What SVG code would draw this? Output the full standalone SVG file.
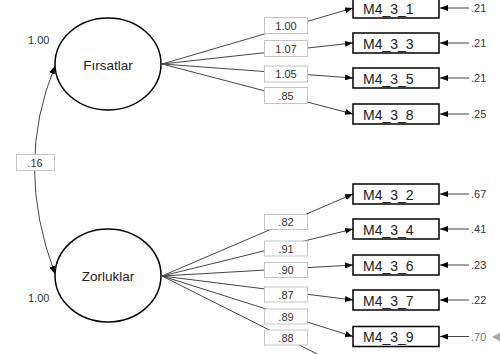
<svg xmlns="http://www.w3.org/2000/svg" width="500" height="354" viewBox="0 0 500 354">
<defs>
<style>
text{font-family:"Liberation Sans",Arial,sans-serif;fill:#222}
.lat{fill:#fff;stroke:#000;stroke-width:1.5}
.ind{fill:#fff;stroke:#000;stroke-width:1.5}
.it{font-size:14px}
.lt{font-size:13.5px;text-anchor:middle}
.ln{fill:none;stroke:#444;stroke-width:1}
.lb{fill:#fff;stroke:#c4c4c4;stroke-width:1}
.lbt{font-size:11px;text-anchor:middle;fill:#333}
.et{font-size:11px;fill:#333}
</style>
<marker id="ah" viewBox="0 0 8 6" refX="8" refY="3" markerWidth="8" markerHeight="6" markerUnits="userSpaceOnUse" orient="auto-start-reverse">
<path d="M0,0L8,3L0,6z" fill="#000"/>
</marker>
</defs>
<rect width="500" height="354" fill="#fff"/>
<g id="connectors">
<path class="ln" d="M55,66 Q14,165 55,274" marker-start="url(#ah)" marker-end="url(#ah)"/>
<line class="ln" x1="162" y1="64" x2="353" y2="8" marker-end="url(#ah)"/>
<line class="ln" x1="162" y1="64" x2="353" y2="43" marker-end="url(#ah)"/>
<line class="ln" x1="162" y1="64" x2="353" y2="78" marker-end="url(#ah)"/>
<line class="ln" x1="162" y1="64" x2="353" y2="114" marker-end="url(#ah)"/>
<line class="ln" x1="162" y1="276" x2="353" y2="194" marker-end="url(#ah)"/>
<line class="ln" x1="162" y1="276" x2="353" y2="229" marker-end="url(#ah)"/>
<line class="ln" x1="162" y1="276" x2="353" y2="265" marker-end="url(#ah)"/>
<line class="ln" x1="162" y1="276" x2="353" y2="300" marker-end="url(#ah)"/>
<line class="ln" x1="162" y1="276" x2="353" y2="336.5" marker-end="url(#ah)"/>
<line class="ln" x1="162" y1="276" x2="353" y2="372"/>
<line class="ln" x1="469" y1="8" x2="440" y2="8" marker-end="url(#ah)"/>
<line class="ln" x1="469" y1="43" x2="440" y2="43" marker-end="url(#ah)"/>
<line class="ln" x1="469" y1="78" x2="440" y2="78" marker-end="url(#ah)"/>
<line class="ln" x1="469" y1="114" x2="440" y2="114" marker-end="url(#ah)"/>
<line class="ln" x1="469" y1="194" x2="440" y2="194" marker-end="url(#ah)"/>
<line class="ln" x1="469" y1="229" x2="440" y2="229" marker-end="url(#ah)"/>
<line class="ln" x1="469" y1="265" x2="440" y2="265" marker-end="url(#ah)"/>
<line class="ln" x1="469" y1="300" x2="440" y2="300" marker-end="url(#ah)"/>
<line class="ln" x1="469" y1="336.5" x2="440" y2="336.5" marker-end="url(#ah)"/>
<rect class="lb" x="16.5" y="154.5" width="38" height="16"/><text class="lbt" x="35" y="166.5">.16</text>
<rect class="lb" x="264.5" y="17.5" width="43" height="16"/><text class="lbt" x="286" y="29.5">1.00</text>
<rect class="lb" x="264.5" y="40.5" width="43" height="16"/><text class="lbt" x="286" y="52.5">1.07</text>
<rect class="lb" x="264.5" y="66" width="43" height="16"/><text class="lbt" x="286" y="78">1.05</text>
<rect class="lb" x="264.5" y="87.5" width="43" height="16"/><text class="lbt" x="286" y="99.5">.85</text>
<rect class="lb" x="264.5" y="214.5" width="43" height="15"/><text class="lbt" x="286" y="226">.82</text>
<rect class="lb" x="264.5" y="241" width="43" height="15"/><text class="lbt" x="286" y="252.5">.91</text>
<rect class="lb" x="264.5" y="262.5" width="43" height="15"/><text class="lbt" x="286" y="274">.90</text>
<rect class="lb" x="264.5" y="287" width="43" height="15"/><text class="lbt" x="286" y="298.5">.87</text>
<rect class="lb" x="264.5" y="309" width="43" height="15"/><text class="lbt" x="286" y="320.5">.89</text>
<rect class="lb" x="264.5" y="330" width="43" height="15"/><text class="lbt" x="286" y="341.5">.88</text>
<text class="et" x="471" y="12">.21</text>
<text class="et" x="471" y="47">.21</text>
<text class="et" x="471" y="82">.21</text>
<text class="et" x="471" y="118">.25</text>
<text class="et" x="471" y="198">.67</text>
<text class="et" x="471" y="233">.41</text>
<text class="et" x="471" y="269">.23</text>
<text class="et" x="471" y="304">.22</text>
<text class="et" x="471" y="340.5" style="fill:#777">.70</text>
<path d="M492,337L500,332.5L500,341.5z" fill="#aaa"/>
</g>
<g id="Firsatlar">
<ellipse class="lat" cx="108" cy="64" rx="53" ry="46"/>
<text class="lt" x="108" y="69.5">Fırsatlar</text>
<text class="et" x="28" y="43.5">1.00</text>
</g>
<g id="Zorluklar">
<ellipse class="lat" cx="108" cy="275.5" rx="53" ry="46.5"/>
<text class="lt" x="108" y="280.5">Zorluklar</text>
<text class="et" x="28" y="302">1.00</text>
</g>
<g id="M4_3_1"><rect class="ind" x="353" y="-2" width="86" height="20"/><text class="it" x="363" y="13.5">M4_3_1</text></g>
<g id="M4_3_3"><rect class="ind" x="353" y="33" width="86" height="20"/><text class="it" x="363" y="48.5">M4_3_3</text></g>
<g id="M4_3_5"><rect class="ind" x="353" y="68" width="86" height="20"/><text class="it" x="363" y="83.5">M4_3_5</text></g>
<g id="M4_3_8"><rect class="ind" x="353" y="104" width="86" height="20"/><text class="it" x="363" y="119.5">M4_3_8</text></g>
<g id="M4_3_2"><rect class="ind" x="353" y="184" width="86" height="20"/><text class="it" x="363" y="199.5">M4_3_2</text></g>
<g id="M4_3_4"><rect class="ind" x="353" y="219" width="86" height="20"/><text class="it" x="363" y="234.5">M4_3_4</text></g>
<g id="M4_3_6"><rect class="ind" x="353" y="255" width="86" height="20"/><text class="it" x="363" y="270.5">M4_3_6</text></g>
<g id="M4_3_7"><rect class="ind" x="353" y="290" width="86" height="20"/><text class="it" x="363" y="305.5">M4_3_7</text></g>
<g id="M4_3_9"><rect class="ind" x="353" y="326.5" width="86" height="20"/><text class="it" x="363" y="342">M4_3_9</text></g>
</svg>
